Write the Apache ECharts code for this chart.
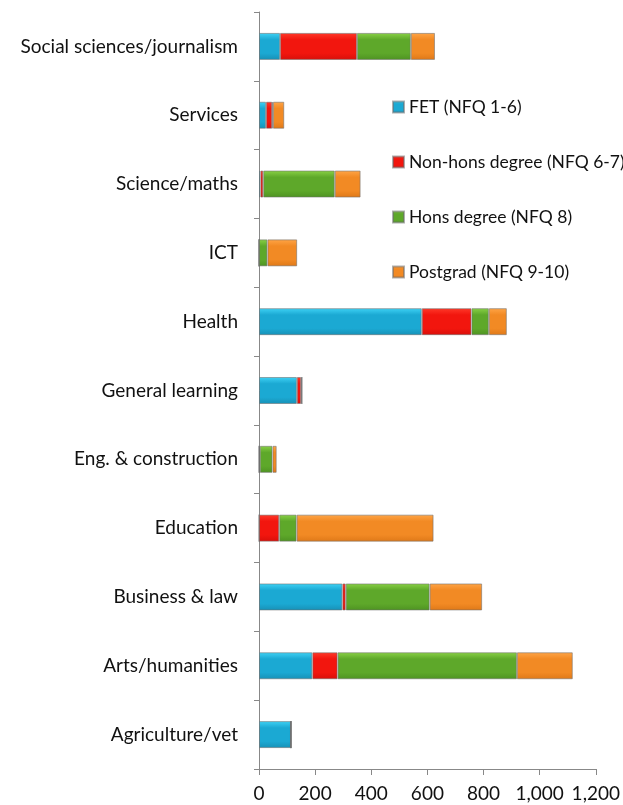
<!DOCTYPE html>
<html>
<head>
<meta charset="utf-8">
<script src="https://cdn.jsdelivr.net/npm/echarts@6/dist/echarts.min.js"></script>
<style>
html,body{margin:0;padding:0;background:#fff;}
#chart{width:623px;height:805px;}
</style>
</head>
<body>
<div id="chart"></div>
<script>
// categories, bottom to top as ECharts draws them
var categories = ['Agriculture/vet', 'Arts/humanities', 'Business & law', 'Education',
    'Eng. & construction', 'General learning', 'Health', 'ICT', 'Science/maths',
    'Services', 'Social sciences/journalism'];
var fet      = [114, 190, 297, 0, 0, 135, 580, 0, 5, 25, 75];
var nonHons  = [0, 90, 12, 72, 3, 15, 177, 0, 10, 22, 274];
var hons     = [0, 639, 299, 62, 45, 3, 62, 30, 255, 3, 192];
var postgrad = [0, 199, 187, 488, 15, 0, 64, 106, 92, 40, 86];
var seriesNames = ['FET (NFQ 1-6)', 'Non-hons degree (NFQ 6-7)', 'Hons degree (NFQ 8)', 'Postgrad (NFQ 9-10)'];
var xTicks = [0, 200, 400, 600, 800, 1000, 1200];

var dom = document.getElementById('chart');
var myChart = echarts.init(dom);

function bevel(top, mid, bottom) {
    return new echarts.graphic.LinearGradient(0, 0, 0, 1, [
        {offset: 0, color: top},
        {offset: 0.25, color: mid},
        {offset: 0.75, color: mid},
        {offset: 1, color: bottom}
    ]);
}
var fills = [
    bevel('#3fd2f5', '#1ba9d3', '#1790b6'),
    bevel('#ff3a2a', '#f2160e', '#d80f0a'),
    bevel('#8ad246', '#5ea82a', '#4e9322'),
    bevel('#ffa547', '#f28a24', '#de7818')
];

function makeSeries(i, data) {
    return {
        name: seriesNames[i],
        type: 'bar',
        stack: 'total',
        barWidth: 27,
        data: data,
        itemStyle: {
            color: fills[i],
            borderColor: 'rgba(110,110,110,0.55)',
            borderWidth: 1
        }
    };
}

var option = {
    animation: false,
    textStyle: {fontFamily: 'Lato'},
    grid: {left: 259, right: 26, top: 12, bottom: 36},
    legend: {
        orient: 'vertical',
        left: 387,
        top: 93,
        itemWidth: 11,
        itemHeight: 11,
        itemGap: 37,
        icon: 'rect',
        data: seriesNames,
        textStyle: {color: '#111', fontSize: 17.5, fontFamily: 'Lato', lineHeight: 17}
    },
    xAxis: {
        type: 'value',
        min: xTicks[0],
        max: xTicks[xTicks.length - 1],
        interval: 200,
        splitLine: {show: false},
        axisLine: {show: true, lineStyle: {color: '#888'}},
        axisTick: {show: true, length: 6, lineStyle: {color: '#888'}},
        axisLabel: {
            color: '#111', fontSize: 19, margin: 15,
            formatter: function (v) { return v.toLocaleString('en-US'); }
        }
    },
    yAxis: {
        type: 'category',
        data: categories,
        axisLine: {show: true, lineStyle: {color: '#888'}},
        axisTick: {show: true, length: 5, lineStyle: {color: '#888'}},
        axisLabel: {color: '#111', fontSize: 19, margin: 21}
    },
    series: [
        makeSeries(0, fet),
        makeSeries(1, nonHons),
        makeSeries(2, hons),
        makeSeries(3, postgrad)
    ]
};
myChart.setOption(option);
</script>
</body>
</html>
